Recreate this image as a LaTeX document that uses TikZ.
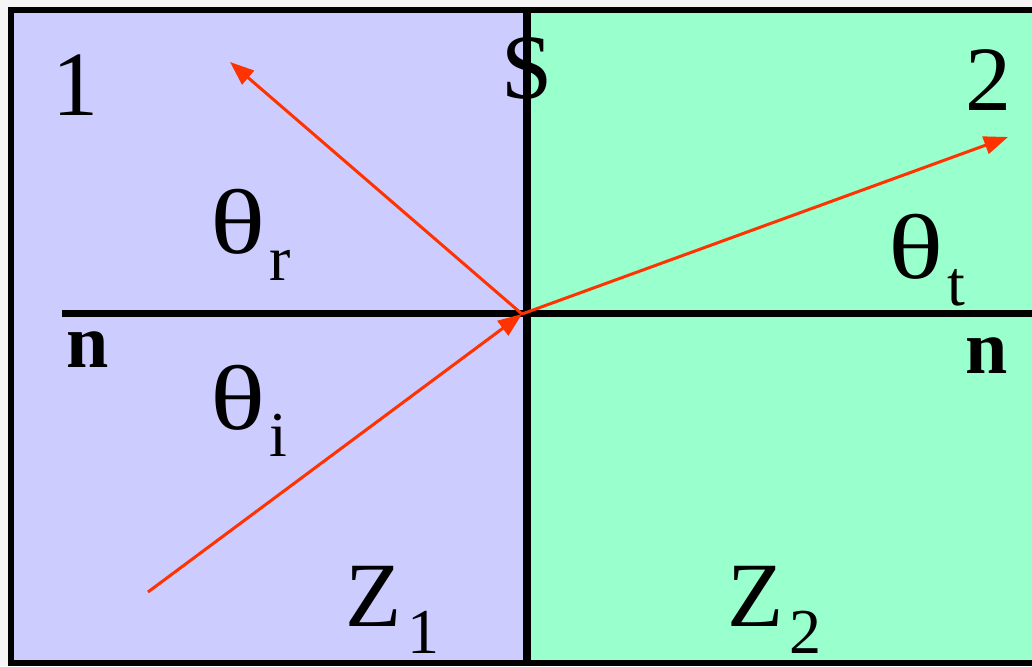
\documentclass[tikz,border=0pt]{standalone}
\usepackage{fontspec}
\setmainfont{Liberation Serif}
\usetikzlibrary{arrows.meta}
\definecolor{medonebg}{HTML}{CCCCFF}
\definecolor{medtwobg}{HTML}{99FFCC}
\definecolor{rayred}{HTML}{FF3300}
\newcommand\lowsub[1]{\raisebox{-0.3em}{\fontsize{32}{38}\selectfont #1}}
\newcommand\wtheta{\scalebox{1.25}[1]{θ}}

\begin{document}
\begin{tikzpicture}[x=0.5pt,y=-0.5pt,
  lbl/.style={font=\fontsize{46}{55}\selectfont,text=black,anchor=base west,inner sep=0pt},
  nlbl/.style={lbl,font=\fontsize{38}{46}\selectfont\bfseries},
  ray/.style={draw=rayred,line width=1.5pt,-{Triangle[length=12pt,width=9pt]}},
  wall/.style={draw=black,line width=3.5pt}]
\useasboundingbox (0,0) rectangle (1032,666);
\fill[gray!8] (0,0) rectangle (1032,666);
\path[fill=medonebg] (11,10) rectangle (527,663);
\path[fill=medtwobg] (527,10) rectangle (1040,663);
\draw[black,line width=2.8pt] (11,10) rectangle (1040,663);
\coordinate (stop) at (527,10);
\coordinate (sbot) at (527,663);
\coordinate (nleft) at (62,313);
\coordinate (nright) at (1040,313);
\draw[wall,line width=4pt] (stop) -- (sbot);
\draw[wall] (nleft) -- (nright);
\node[lbl] (med1) at (52,115) {1};
\node[lbl] (med2) at (965,110) {2};
\node[lbl,anchor=base] (surf) at (527,98) {S};
\node[lbl] (thr) at (210,253) {\wtheta\kern2pt\lowsub{r}};
\node[lbl] (tht) at (888,278) {\wtheta\kern2pt\lowsub{t}};
\node[lbl] (thi) at (210,429) {\wtheta\kern2pt\lowsub{i}};
\node[nlbl] (nl) at (66,367) {n};
\node[nlbl] (nr) at (965,373) {n};
\node[lbl] (z1) at (345,626) {Z\kern3pt\lowsub{1}};
\node[lbl] (z2) at (727,626) {Z\kern3pt\lowsub{2}};
\coordinate (src) at (148,592);
\coordinate (hit) at (522,314);
\coordinate (refl) at (230,62);
\coordinate (trans) at (1008,137);
\draw[ray] (src) -- (hit);
\draw[ray] (hit) -- (refl);
\draw[ray] (hit) -- (trans);
\end{tikzpicture}
\end{document}
